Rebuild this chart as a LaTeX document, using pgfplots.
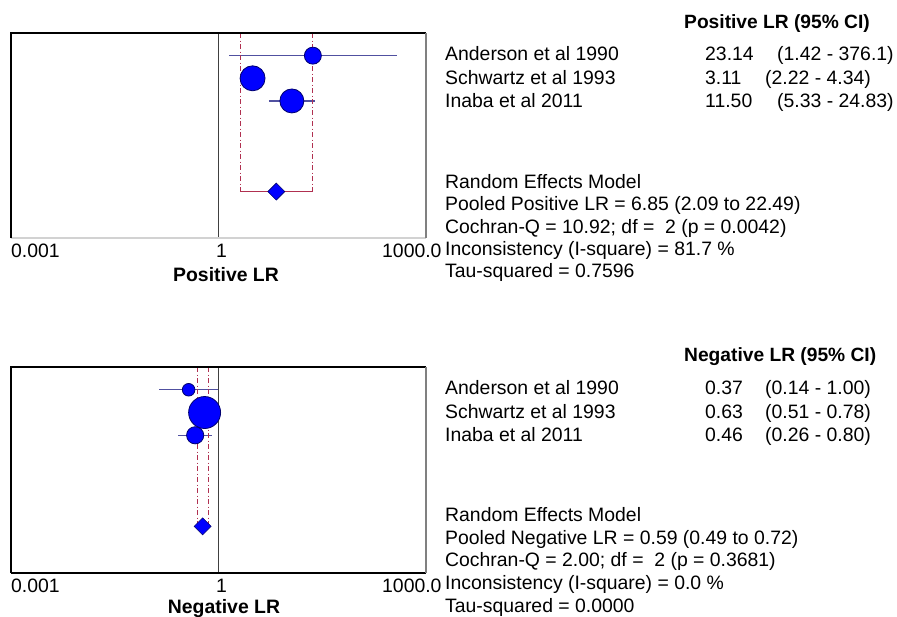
\documentclass[border=0pt]{standalone}
\usepackage{pgfplots}
\pgfplotsset{compat=1.18}
\usepackage{fontspec}
\setmainfont{Liberation Sans}
\definecolor{mkfill}{RGB}{0,0,255}
\definecolor{mkdraw}{RGB}{0,0,110}
\definecolor{ciline}{RGB}{80,80,160}
\definecolor{pool}{RGB}{176,48,80}
\definecolor{refl}{RGB}{64,64,64}
\begin{document}
\begin{tikzpicture}
\useasboundingbox (0pt,0pt) rectangle (897pt,-616pt);
% ---------- Top panel ----------
\begin{axis}[xmode=log, xmin=0.001, xmax=1000, ymin=0, ymax=9.05, y dir=reverse,
    scale only axis, width=415pt, height=205pt, at={(11pt,-238pt)}, anchor=south west,
    xtick=\empty, ytick=\empty, axis line style={draw=none}, clip=false]
\addplot[ciline, line width=1.3pt] coordinates {(1.42,1) (376.1,1)};
\addplot[ciline, line width=1.3pt] coordinates {(2.22,2) (4.34,2)};
\addplot[ciline, line width=1.3pt] coordinates {(5.33,3) (24.83,3)};
\addplot[refl, line width=1.3pt] coordinates {(1,0) (1,9.05)};
\addplot[only marks, mark=*, mark size=8.5pt, mark options={fill=mkfill, draw=mkdraw, line width=0.8pt}] coordinates {(23.14,1)};
\addplot[only marks, mark=*, mark size=12.5pt, mark options={fill=mkfill, draw=mkdraw, line width=0.8pt}] coordinates {(3.11,2)};
\addplot[only marks, mark=*, mark size=12pt, mark options={fill=mkfill, draw=mkdraw, line width=0.8pt}] coordinates {(11.50,3)};
\addplot[pool, line width=1pt, dash pattern=on 5pt off 2.5pt on 1pt off 2.5pt] coordinates {(2.09,0) (2.09,7)};
\addplot[pool, line width=1pt, dash pattern=on 5pt off 2.5pt on 1pt off 2.5pt] coordinates {(22.49,0) (22.49,7)};
\addplot[pool, line width=1.2pt] coordinates {(2.09,7) (22.49,7)};
\addplot[only marks, mark=square*, mark size=6pt, mark options={rotate=45, fill=mkfill, draw=mkdraw, line width=0.6pt}] coordinates {(6.85,7)};
\draw[gray!35, line width=1.2pt] (rel axis cs:0,0) -- (rel axis cs:1,0);
\draw[black, line width=1.2pt] (rel axis cs:0,0) -- (rel axis cs:0,1) -- (rel axis cs:1,1);
\draw[gray, line width=1.2pt] (rel axis cs:1,0) -- (rel axis cs:1,1);
\end{axis}
% ---------- Bottom panel ----------
\begin{axis}[xmode=log, xmin=0.001, xmax=1000, ymin=0, ymax=9.05, y dir=reverse,
    scale only axis, width=415pt, height=206pt, at={(11pt,-573pt)}, anchor=south west,
    xtick=\empty, ytick=\empty, axis line style={draw=none}, clip=false]
\addplot[ciline, line width=1.3pt] coordinates {(0.14,1) (1.00,1)};
\addplot[ciline, line width=1.3pt] coordinates {(0.51,2) (0.78,2)};
\addplot[ciline, line width=1.3pt] coordinates {(0.26,3) (0.80,3)};
\addplot[refl, line width=1.3pt] coordinates {(1,0) (1,9.05)};
\addplot[only marks, mark=*, mark size=6.3pt, mark options={fill=mkfill, draw=mkdraw, line width=0.8pt}] coordinates {(0.37,1)};
\addplot[only marks, mark=*, mark size=16pt, mark options={fill=mkfill, draw=mkdraw, line width=0.8pt}] coordinates {(0.63,2)};
\addplot[only marks, mark=*, mark size=8.6pt, mark options={fill=mkfill, draw=mkdraw, line width=0.8pt}] coordinates {(0.46,3)};
\addplot[pool, line width=1pt, dash pattern=on 5pt off 2.5pt on 1pt off 2.5pt] coordinates {(0.49,0) (0.49,7)};
\addplot[pool, line width=1pt, dash pattern=on 5pt off 2.5pt on 1pt off 2.5pt] coordinates {(0.72,0) (0.72,7)};
\addplot[pool, line width=1.2pt] coordinates {(0.49,7) (0.72,7)};
\addplot[only marks, mark=square*, mark size=6pt, mark options={rotate=45, fill=mkfill, draw=mkdraw, line width=0.6pt}] coordinates {(0.59,7)};
\draw[black, line width=1.2pt] (rel axis cs:0,0) -- (rel axis cs:0,1) -- (rel axis cs:1,1);
\draw[black, line width=1.2pt] (rel axis cs:0,0) -- (rel axis cs:1,0);
\draw[gray, line width=1.2pt] (rel axis cs:1,0) -- (rel axis cs:1,1);
\end{axis}
% ---------- Texts ----------
\begin{scope}[every node/.style={inner sep=0pt, anchor=base west, font=\fontsize{19.4}{22}\selectfont}]
% top panel
\node at (11pt,-257pt) {0.001};
\node at (216pt,-257pt) {1};
\node at (382pt,-257pt) {1000.0};
\node[anchor=base, font=\fontsize{19.4}{22}\selectfont\bfseries] at (226pt,-281pt) {Positive LR};
\node[font=\fontsize{19.2}{22}\selectfont\bfseries] at (684pt,-28pt) {Positive LR (95\% CI)};
\node at (445pt,-60pt) {Anderson et al 1990};
\node at (445pt,-84pt) {Schwartz et al 1993};
\node at (445pt,-107pt) {Inaba et al 2011};
\node at (705pt,-60pt) {23.14};
\node at (705pt,-84pt) {3.11};
\node at (705pt,-107pt) {11.50};
\node at (777pt,-60pt) {(1.42 - 376.1)};
\node at (765pt,-84pt) {(2.22 - 4.34)};
\node at (777pt,-107pt) {(5.33 - 24.83)};
\node at (445pt,-188pt) {Random Effects Model};
\node at (445pt,-210pt) {Pooled Positive LR = 6.85 (2.09 to 22.49)};
\node at (445pt,-233pt) {Cochran-Q = 10.92; df = \ 2 (p = 0.0042)};
\node at (445pt,-255pt) {Inconsistency (I-square) = 81.7 \%};
\node at (445pt,-277pt) {Tau-squared = 0.7596};
% bottom panel
\node at (11pt,-592pt) {0.001};
\node at (216pt,-592pt) {1};
\node at (382pt,-592pt) {1000.0};
\node[anchor=base, font=\fontsize{19.4}{22}\selectfont\bfseries] at (224pt,-613pt) {Negative LR};
\node[font=\fontsize{19.2}{22}\selectfont\bfseries] at (684pt,-361pt) {Negative LR (95\% CI)};
\node at (445pt,-394pt) {Anderson et al 1990};
\node at (445pt,-418pt) {Schwartz et al 1993};
\node at (445pt,-441pt) {Inaba et al 2011};
\node at (705pt,-394pt) {0.37};
\node at (705pt,-418pt) {0.63};
\node at (705pt,-441pt) {0.46};
\node at (765pt,-394pt) {(0.14 - 1.00)};
\node at (765pt,-418pt) {(0.51 - 0.78)};
\node at (765pt,-441pt) {(0.26 - 0.80)};
\node at (445pt,-521pt) {Random Effects Model};
\node at (445pt,-544pt) {Pooled Negative LR = 0.59 (0.49 to 0.72)};
\node at (445pt,-566pt) {Cochran-Q = 2.00; df = \ 2 (p = 0.3681)};
\node at (445pt,-589pt) {Inconsistency (I-square) = 0.0 \%};
\node at (445pt,-612pt) {Tau-squared = 0.0000};
\end{scope}
\end{tikzpicture}
\end{document}
